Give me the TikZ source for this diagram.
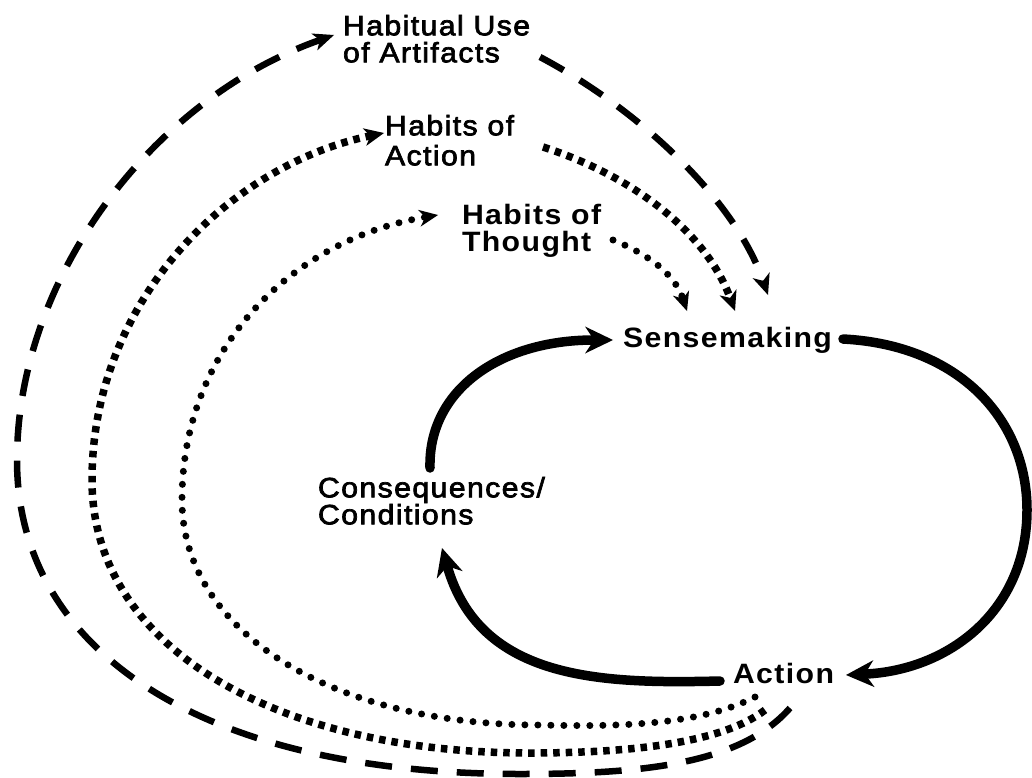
\documentclass[tikz,border=0pt]{standalone}
\usepackage{fontspec}
\setmainfont{Liberation Sans}[LetterSpace=5, FakeStretch=1.08, UprightFeatures={FakeBold=2.5}]
\usetikzlibrary{arrows.meta}
\begin{document}
\begin{tikzpicture}[x=1pt,y=-1pt,
  lbl/.style={inner sep=0pt, outer sep=0pt, anchor=north west, align=left},
  txt/.style={font=\fontsize{28}{27}\selectfont},
  btxt/.style={font=\fontsize{28}{27}\selectfont\bfseries},
  cyc/.style={line width=9.5pt, line cap=round,
    -{Stealth[length=28pt,width=27pt,inset=9pt,line width=0pt]}},
  dsh/.style={line width=6.5pt, dash pattern=on 27pt off 19pt,
    -{Stealth[length=21pt,width=18pt,inset=6pt,line width=0pt]}},
  sqd/.style={line width=7.5pt, dash pattern=on 6.5pt off 6pt,
    -{Stealth[length=20pt,width=18pt,inset=6pt,line width=0pt]}},
  rdd/.style={line width=7pt, line cap=round, dash pattern=on 0pt off 13pt,
    -{Stealth[length=19pt,width=17pt,inset=6pt,line width=0pt]}},
]
\useasboundingbox (0,0) rectangle (1032,778);

% labels
\node[lbl, txt] (art) at (343,15) {Habitual Use\\of Artifacts};
\node[lbl, font=\fontsize{28}{30}\selectfont] (hoa) at (385,115) {Habits of\\Action};
\node[lbl, btxt] (hot) at (462,204) {Habits of\\Thought};
\node[lbl, btxt] (sense) at (623,327) {Sensemaking};
\node[lbl, txt] (cons) at (318,477) {Consequences/\\Conditions};
\node[lbl, btxt] (action) at (733,663) {Action};

% connector end points
\coordinate (cTop) at (430,468);
\coordinate (sIn) at (613,340);
\coordinate (sOut) at (843,339);
\coordinate (aIn) at (846,675);
\coordinate (aOut) at (720,681);
\coordinate (cIn) at (442,548);
\coordinate (uStart) at (790,708);
\coordinate (uIn) at (334,35);
\coordinate (uOut) at (540,57);
\coordinate (sTipA) at (768,295);
\coordinate (hStart) at (765,710);
\coordinate (hIn) at (384,133);
\coordinate (hOut) at (543,147);
\coordinate (sTipB) at (735,311);
\coordinate (tStart) at (755,697);
\coordinate (tIn) at (438,215);
\coordinate (tOut) at (613,240);
\coordinate (sTipC) at (687,311);

% main cycle
\draw[cyc] (cTop) .. controls (428,390) and (500,340) .. (sIn);
\draw[cyc] (sOut) .. controls (960,345) and (1027,420) .. (1027,510)
                  .. controls (1027,610) and (950,670) .. (aIn);
\draw[cyc] (aOut) .. controls (600,684) and (480,680) .. (cIn);

% habitual use of artifacts (dashed)
\draw[dsh] (uStart) .. controls (740,765) and (640,774) .. (520,774)
                    .. controls (200,774) and (17,650) .. (17,460)
                    .. controls (17,280) and (150,100) .. (uIn);
\draw[dsh] (uOut) .. controls (640,110) and (735,200) .. (sTipA);

% habits of action (square dots)
\draw[sqd] (hStart) .. controls (720,745) and (620,753) .. (530,753)
                    .. controls (280,753) and (92,650) .. (92,480)
                    .. controls (92,300) and (230,165) .. (hIn);
\draw[sqd] (hOut) .. controls (630,175) and (705,230) .. (sTipB);

% habits of thought (round dots)
\draw[rdd] (tStart) .. controls (700,725) and (620,727) .. (540,725)
                    .. controls (330,725) and (182,630) .. (182,500)
                    .. controls (182,350) and (290,240) .. (tIn);
\draw[rdd] (tOut) .. controls (650,255) and (675,275) .. (sTipC);
\end{tikzpicture}
\end{document}
